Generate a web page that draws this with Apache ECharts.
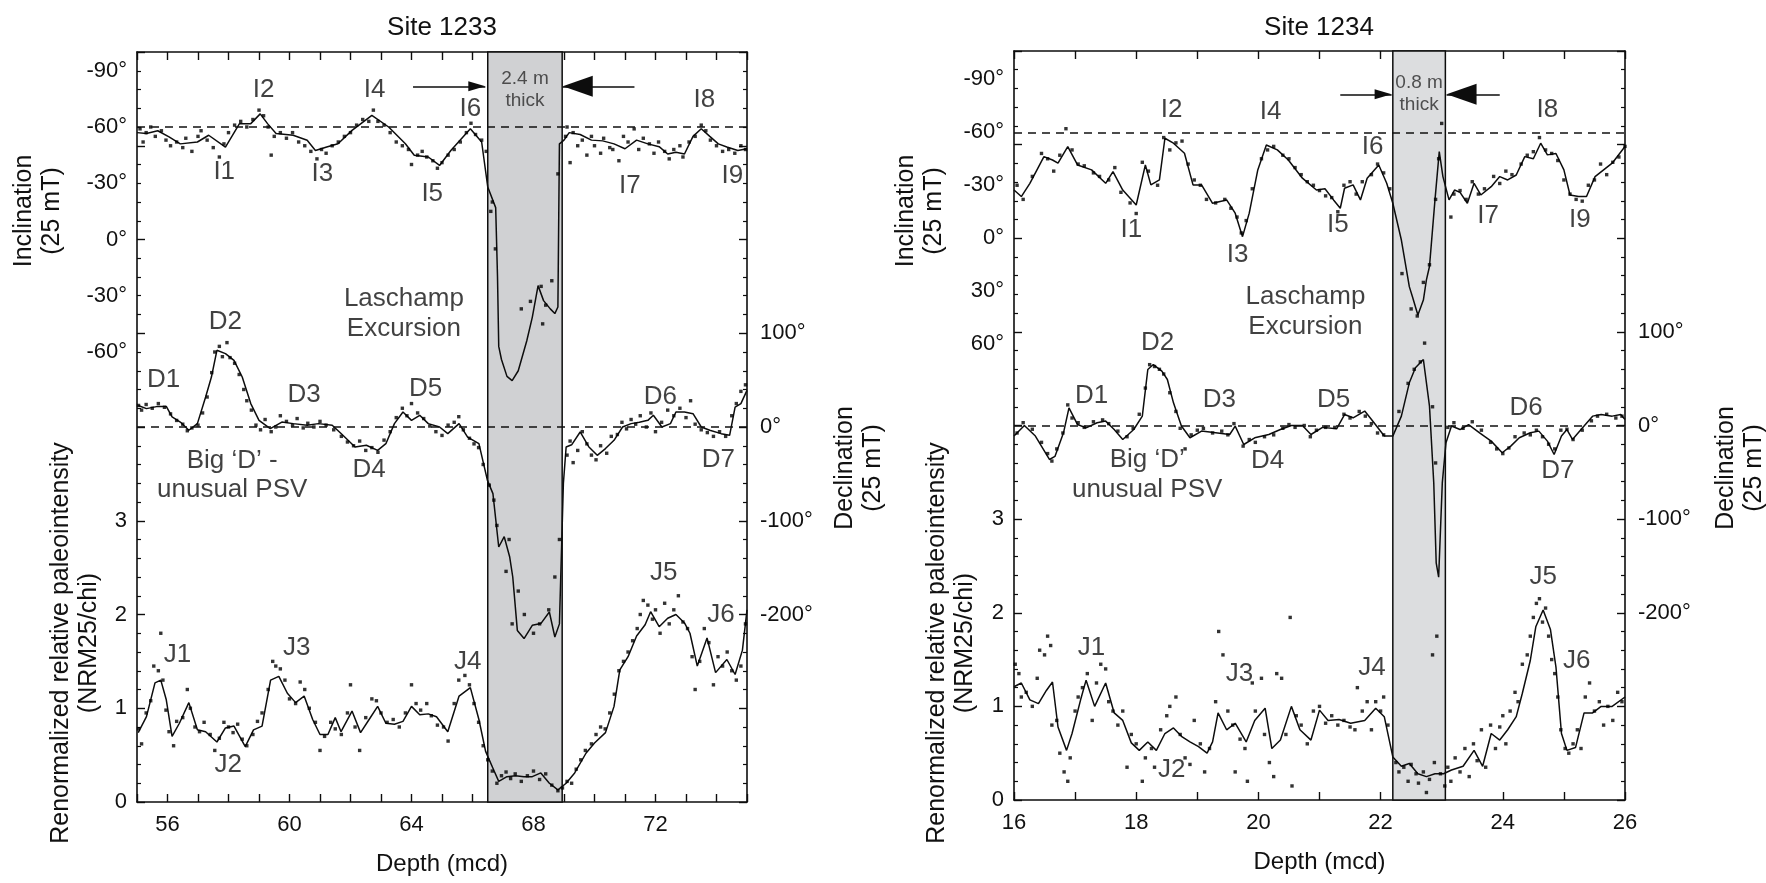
<!DOCTYPE html>
<html><head><meta charset="utf-8">
<script src="https://cdn.jsdelivr.net/npm/echarts@6/dist/echarts.min.js"></script>
<style>html,body{margin:0;padding:0;background:#fff}#c{width:1766px;height:883px}</style>
</head><body><div id="c"></div><script>
// ================= DATA =================
// axis scales / tick labels
const depthRange1233 = [55, 75];
const depthRange1234 = [16, 26];
const depthLabels1233 = [56, 60, 64, 68, 72];
const depthLabels1234 = [16, 18, 20, 22, 24, 26];
const incTicks = [-90, -60, -30, 0, 30, 60];
const incTickText1233 = ['-90°', '-60°', '-30°', '0°', '-30°', '-60°'];
const incTickText1234 = ['-90°', '-60°', '-30°', '0°', '30°', '60°'];
const incRange1233 = [-100, 300];
const incRange1234 = [-106, 318];
const decRange = [-400, 400];
const decTicksShown = [100, 0, -100, -200];
const intRange = [0, 8];
const intTicksShown = [0, 1, 2, 3];
const incReference = -60;
const decReference = 0;
const band1233 = [66.5, 68.94];
const band1234 = [22.2, 23.06];

// ---------- Site 1233 ----------
const inc1233Line = [[55.0,-57],[55.31,-56.5],[55.68,-58],[56.05,-54.7],[56.42,-51],[56.98,-52],[57.35,-55.6],[57.9,-49.3],[58.36,-61.8],[58.73,-61.8],[59.04,-67],[59.28,-61.8],[59.56,-56.5],[60.12,-55.6],[60.58,-52.9],[60.85,-47.5],[61.22,-49.3],[61.59,-51.1],[62.05,-58.2],[62.7,-66.2],[63.25,-60],[63.8,-51.1],[64.09,-44.9],[64.55,-44],[64.92,-39.5],[65.29,-47.5],[65.93,-59.1],[66.3,-52],[66.5,-28],[66.76,-17],[66.82,20],[66.86,57],[66.95,64],[67.13,73],[67.3,75.3],[67.5,70],[67.78,54],[67.96,41.5],[68.15,24.6],[68.33,32.6],[68.55,37],[68.7,39.5],[68.8,36],[68.85,-51],[69.0,-53],[69.17,-57],[69.53,-56],[69.9,-53],[70.27,-52.6],[70.64,-51],[71.0,-48.4],[71.38,-53],[71.75,-51],[72.12,-49.5],[72.4,-45.6],[72.67,-46.5],[72.95,-45.6],[73.23,-55],[73.5,-59.1],[73.78,-55],[74.06,-51],[74.34,-49.3],[74.7,-47.5],[75.0,-48.4]];
const dec1233Line = [[55.04,23],[55.31,19.6],[55.68,22],[55.96,22],[56.15,10.7],[56.42,5.3],[56.7,-3.5],[56.98,3.6],[57.25,32],[57.44,53.3],[57.62,81.8],[57.9,78.3],[58.18,71.1],[58.45,53.3],[58.73,25],[59.0,7.1],[59.37,-1.8],[59.75,5.3],[60.12,3.6],[60.58,1.8],[60.95,3.6],[61.4,1.8],[61.69,-7],[62.15,-21.3],[62.52,-19.5],[62.89,-24.9],[63.16,-17.8],[63.44,3.6],[63.72,16],[64.0,7.1],[64.27,12.5],[64.55,3.6],[64.92,0],[65.19,-7.1],[65.56,3.6],[65.84,-10.7],[66.21,-17.8],[66.49,-56.9],[66.67,-71.1],[66.86,-128],[67.04,-117],[67.22,-138.7],[67.32,-160],[67.47,-217],[67.69,-225.7],[67.96,-211.5],[68.24,-209.7],[68.52,-197.3],[68.7,-224],[68.85,-210],[68.98,-60],[69.07,-21.3],[69.25,-19],[69.53,-5.3],[69.81,-21],[70.09,-30.2],[70.36,-23],[70.64,-14.2],[70.92,0],[71.2,3.6],[71.47,5],[71.75,7.1],[71.93,12.5],[72.21,0],[72.49,3.6],[72.67,16],[72.95,16],[73.23,14.2],[73.5,0],[73.78,-3.5],[74.15,-7.1],[74.43,-8.9],[74.61,21.3],[74.8,25],[75.0,39]];
const int1233Line = [[55.04,0.74],[55.31,0.91],[55.59,1.27],[55.78,1.3],[55.96,1.09],[56.15,0.7],[56.39,0.84],[56.7,1.06],[56.98,0.77],[57.25,0.75],[57.62,0.64],[57.9,0.79],[58.18,0.81],[58.55,0.59],[58.82,0.77],[59.1,0.81],[59.38,1.3],[59.65,1.34],[59.93,1.16],[60.2,1.06],[60.48,1.13],[60.76,0.88],[61.0,0.72],[61.26,0.72],[61.5,0.9],[61.69,0.75],[62.05,0.97],[62.33,0.74],[62.61,0.88],[62.89,1.02],[63.16,0.84],[63.44,0.83],[63.72,0.86],[64.0,1.02],[64.27,0.93],[64.55,0.94],[64.82,0.91],[65.19,0.75],[65.56,1.13],[65.93,1.22],[66.21,0.88],[66.43,0.54],[66.67,0.36],[66.86,0.22],[67.13,0.27],[67.41,0.28],[67.69,0.27],[67.96,0.27],[68.24,0.31],[68.52,0.2],[68.8,0.13],[69.07,0.2],[69.35,0.31],[69.72,0.52],[70.0,0.63],[70.36,0.74],[70.64,1.02],[70.83,1.41],[71.1,1.55],[71.38,1.77],[71.66,1.89],[71.84,2.03],[72.12,1.87],[72.4,1.96],[72.67,2.0],[72.95,1.91],[73.13,1.8],[73.37,1.45],[73.69,1.75],[73.97,1.38],[74.34,1.52],[74.61,1.36],[74.85,1.62],[75.0,2.05]];
const inc1233Pts = [[55.1,-59],[55.2,-52],[55.3,-57],[55.45,-60],[55.6,-55],[55.8,-58],[55.95,-53],[56.1,-50],[56.3,-52],[56.5,-49],[56.6,-54],[56.8,-47],[57.0,-55],[57.1,-58],[57.3,-53],[57.5,-49],[57.7,-44],[57.85,-51],[58.0,-57],[58.2,-61],[58.4,-63],[58.6,-60],[58.8,-64],[59.0,-69],[59.15,-66],[59.3,-60],[59.4,-45],[59.5,-55],[59.7,-57],[59.9,-54],[60.1,-57],[60.3,-52],[60.5,-50],[60.7,-47],[60.9,-43],[61.05,-48],[61.2,-46],[61.4,-50],[61.6,-52],[61.8,-55],[62.0,-57],[62.2,-61],[62.4,-64],[62.6,-63],[62.75,-69],[62.9,-63],[63.1,-61],[63.3,-57],[63.5,-52],[63.7,-50],[63.9,-48],[64.0,-40],[64.2,-45],[64.35,-47],[64.5,-44],[64.7,-42],[64.85,-38],[65.0,-41],[65.2,-45],[65.4,-48],[65.6,-52],[65.8,-57],[65.95,-62],[66.1,-56],[66.3,-53],[66.45,-47],[66.6,-15],[66.65,-20],[66.75,5],[67.6,37],[67.9,33],[68.25,25],[68.3,45],[68.4,35],[68.6,22],[68.8,-35],[69.05,-55],[69.1,-60],[69.2,-41],[69.3,-57],[69.45,-50],[69.6,-53],[69.75,-45],[69.9,-55],[70.0,-50],[70.2,-46],[70.3,-54],[70.5,-49],[70.6,-48],[70.8,-42],[70.95,-55],[71.1,-52],[71.3,-59],[71.45,-48],[71.6,-54],[71.8,-51],[71.95,-46],[72.1,-52],[72.3,-47],[72.45,-43],[72.6,-48],[72.8,-50],[72.9,-44],[73.1,-52],[73.3,-55],[73.5,-61],[73.65,-58],[73.8,-53],[74.0,-50],[74.2,-47],[74.4,-48],[74.6,-46],[74.8,-50],[74.95,-48]];
const dec1233Pts = [[55.05,23],[55.15,18],[55.3,24],[55.5,20],[55.7,25],[55.9,21],[56.1,14],[56.3,7],[56.5,3],[56.65,-4],[56.8,-1],[57.0,2],[57.15,15],[57.3,32],[57.45,58],[57.55,80],[57.7,86],[57.8,75],[57.95,90],[58.05,74],[58.2,68],[58.35,56],[58.5,40],[58.6,28],[58.75,18],[58.9,2],[59.05,-3],[59.2,8],[59.4,-5],[59.55,0],[59.7,12],[59.9,6],[60.1,2],[60.25,9],[60.45,-1],[60.6,4],[60.8,0],[61.0,6],[61.2,2],[61.45,-3],[61.7,-10],[61.9,-16],[62.1,-20],[62.3,-15],[62.5,-25],[62.7,-22],[62.9,-27],[63.1,-14],[63.3,-5],[63.5,10],[63.7,20],[63.85,12],[64.0,25],[64.2,15],[64.4,9],[64.6,1],[64.8,-5],[65.0,-9],[65.2,2],[65.4,5],[65.55,11],[65.7,-3],[65.9,-12],[66.05,-18],[66.2,-22],[66.35,-40],[66.55,-62],[66.7,-78],[66.8,-105],[67.1,-154],[67.2,-120],[67.3,-210],[67.5,-175],[67.7,-200],[68.0,-220],[68.2,-210],[68.5,-195],[68.7,-160],[68.85,-120],[69.1,-30],[69.2,-15],[69.3,-38],[69.45,-25],[69.6,-5],[69.75,-18],[69.9,-30],[70.05,-35],[70.2,-20],[70.4,-28],[70.55,-10],[70.75,-8],[70.9,5],[71.05,-2],[71.2,8],[71.35,3],[71.5,12],[71.7,0],[71.85,15],[72.0,-5],[72.2,5],[72.4,18],[72.6,12],[72.8,20],[73.0,10],[73.15,28],[73.3,3],[73.5,-3],[73.7,-6],[73.9,-10],[74.1,-5],[74.3,-10],[74.5,12],[74.65,25],[74.8,38],[74.95,45]];
const int1233Pts = [[55.05,0.78],[55.15,0.62],[55.3,0.95],[55.45,1.08],[55.55,1.45],[55.7,1.4],[55.78,1.8],[55.85,1.3],[55.95,0.98],[56.05,0.75],[56.2,0.6],[56.3,0.86],[56.5,0.9],[56.65,1.2],[56.75,1.0],[56.9,0.8],[57.05,0.75],[57.2,0.85],[57.4,0.72],[57.55,0.55],[57.7,0.68],[57.85,0.85],[58.0,0.8],[58.15,0.74],[58.3,0.83],[58.45,0.67],[58.6,0.6],[58.8,0.72],[58.95,0.86],[59.1,0.95],[59.3,1.2],[59.45,1.5],[59.55,1.45],[59.7,1.42],[59.85,1.3],[60.0,1.1],[60.2,1.05],[60.35,1.28],[60.5,1.2],[60.65,1.0],[60.85,0.85],[61.0,0.55],[61.15,0.7],[61.35,0.85],[61.5,0.78],[61.7,0.72],[61.9,0.95],[62.0,1.25],[62.15,0.8],[62.3,0.55],[62.5,0.9],[62.7,1.1],[62.85,1.08],[63.0,0.95],[63.2,0.85],[63.4,0.88],[63.6,0.8],[63.8,0.95],[64.0,1.25],[64.15,1.05],[64.3,0.98],[64.5,1.05],[64.65,0.92],[64.85,0.82],[65.05,0.8],[65.2,0.65],[65.4,1.05],[65.55,1.3],[65.75,1.35],[65.9,1.25],[66.05,1.05],[66.2,0.85],[66.35,0.6],[66.5,0.45],[66.65,0.33],[66.8,0.2],[66.95,0.28],[67.1,0.32],[67.25,0.25],[67.4,0.3],[67.6,0.22],[67.8,0.28],[68.0,0.33],[68.2,0.24],[68.4,0.3],[68.6,0.18],[68.8,0.12],[68.95,0.15],[69.1,0.22],[69.25,0.2],[69.4,0.35],[69.55,0.45],[69.7,0.55],[69.9,0.62],[70.05,0.72],[70.2,0.8],[70.35,0.78],[70.5,0.95],[70.65,1.15],[70.8,1.4],[70.95,1.5],[71.1,1.6],[71.25,1.72],[71.4,1.85],[71.5,2.0],[71.6,2.15],[71.75,2.1],[71.9,1.95],[72.0,2.05],[72.15,1.8],[72.3,2.12],[72.45,1.9],[72.6,2.05],[72.75,2.2],[72.9,1.92],[73.05,1.85],[73.2,1.55],[73.3,1.2],[73.45,1.5],[73.6,1.85],[73.75,1.7],[73.9,1.25],[74.05,1.55],[74.2,1.45],[74.35,1.6],[74.5,1.4],[74.65,1.3],[74.8,1.45],[74.95,1.9]];
const incNotes1233 = [['I1',57.86,-36],['I2',59.15,-79.6],['I3',61.08,-35],['I4',62.79,-79.6],['I5',64.68,-24.4],['I6',65.93,-69.8],['I7',71.16,-28.8],['I8',73.6,-74.3],['I9',74.52,-34.2],['Laschamp\nExcursion',63.75,39.5]];
const decNotes1233 = [['D1',55.87,49.8],['D2',57.9,112],['D3',60.48,33.8],['D4',62.61,-46.2],['D5',64.46,41],['D6',72.16,32],['D7',74.06,-35.5],['Big ‘D’ -\nunusual PSV',58.12,-51.5]];
const intNotes1233 = [['J1',56.33,1.57],['J2',57.99,0.4],['J3',60.24,1.64],['J4',65.84,1.5],['J5',72.27,2.44],['J6',74.15,2.0]];
const thickNote1233 = [['2.4 m\nthick',67.72,-80]];
const arrowsIn1233 = [[[64.05,-81.7],[66.42,-81.7]],[[71.31,-81.7],[68.96,-81.7]]];

// ---------- Site 1234 ----------
const inc1234Line = [[16,-27.3],[16.12,-23.6],[16.26,-31.1],[16.49,-46.2],[16.63,-44.3],[16.72,-42.5],[16.88,-51.9],[17.04,-41.5],[17.27,-38.7],[17.5,-31.1],[17.62,-37.7],[17.78,-27.3],[18.0,-18.8],[18.15,-41.5],[18.24,-30.2],[18.38,-33],[18.47,-56.6],[18.61,-53.8],[18.79,-48.1],[18.93,-30.2],[19.07,-30.2],[19.25,-19.8],[19.48,-21.7],[19.62,-14.2],[19.74,-0.9],[19.85,-14.2],[19.99,-38.7],[20.13,-52.8],[20.31,-50],[20.49,-44.3],[20.72,-34],[20.95,-27.3],[21.09,-28],[21.23,-21.7],[21.34,-17],[21.41,-28.3],[21.55,-30.2],[21.67,-21.7],[21.78,-34],[21.97,-41.5],[22.1,-31.1],[22.2,-19.8],[22.34,1],[22.47,27.4],[22.52,33],[22.61,43.4],[22.7,35],[22.75,23.6],[22.8,16],[22.89,-21.7],[22.96,-49],[23.02,-34.9],[23.12,-21.7],[23.21,-27.3],[23.3,-26],[23.42,-19.8],[23.53,-31.1],[23.64,-24.5],[23.81,-29.2],[23.95,-34.9],[24.08,-33],[24.22,-35.8],[24.36,-46.2],[24.5,-45],[24.62,-53.8],[24.73,-47.2],[24.87,-48],[25.0,-38.7],[25.1,-24.5],[25.24,-23.6],[25.37,-23.6],[25.51,-34.9],[25.65,-38.7],[25.79,-42.5],[26.0,-51.9]];
const dec1234Line = [[16,-11.3],[16.17,0],[16.35,-11.3],[16.58,-36.3],[16.67,-33],[16.81,-7.8],[16.9,18.9],[17.04,1],[17.18,-2.5],[17.36,2.9],[17.5,4.7],[17.64,-4.3],[17.78,-14.9],[17.96,-4.3],[18.1,10],[18.19,59.8],[18.28,65.1],[18.42,58],[18.51,49.1],[18.61,24.2],[18.74,-0.6],[18.88,-13.1],[19.07,-6],[19.3,-7.8],[19.53,-9.6],[19.62,-0.6],[19.76,-20.3],[19.94,-13.1],[20.17,-9.6],[20.36,-4.3],[20.54,0],[20.72,0],[20.86,-9.6],[21.05,-2],[21.28,-3.5],[21.41,11.7],[21.55,8.2],[21.74,15.4],[21.88,4],[22.06,-11.3],[22.2,-11.3],[22.34,10],[22.47,45.6],[22.57,61.6],[22.7,70.5],[22.8,20.7],[22.87,-61.2],[22.91,-146.6],[22.95,-162],[22.98,-160.8],[23.01,-61],[23.07,-18.5],[23.16,-0.6],[23.3,-4.3],[23.44,1],[23.62,-7.8],[23.81,-16.7],[23.99,-29.1],[24.13,-22],[24.27,-13.1],[24.45,-7.8],[24.59,-6],[24.73,-16.7],[24.84,-31],[24.96,-11.3],[25.05,-4.3],[25.14,-14.9],[25.33,-0.6],[25.47,10],[25.61,11.7],[25.79,10],[25.93,11.7],[26,6.4]];
const int1234Line = [[16,1.21],[16.12,1.25],[16.26,1.07],[16.4,1.03],[16.53,1.17],[16.63,1.26],[16.72,0.78],[16.86,0.53],[16.95,0.71],[17.09,1.07],[17.18,1.28],[17.32,1.0],[17.5,1.25],[17.64,0.93],[17.78,0.85],[17.92,0.61],[18.05,0.53],[18.19,0.62],[18.33,0.53],[18.47,0.71],[18.61,0.77],[18.74,0.68],[18.88,0.62],[19.02,0.57],[19.16,0.5],[19.25,0.62],[19.34,0.93],[19.48,0.75],[19.62,0.82],[19.8,0.62],[19.94,0.85],[20.11,0.98],[20.22,0.55],[20.36,0.64],[20.54,1.0],[20.68,0.75],[20.86,0.64],[21.0,0.96],[21.14,0.85],[21.32,0.86],[21.51,0.82],[21.74,0.85],[21.92,0.98],[22.06,0.89],[22.2,0.46],[22.34,0.36],[22.47,0.39],[22.61,0.28],[22.75,0.25],[22.89,0.28],[23.03,0.28],[23.16,0.32],[23.35,0.36],[23.53,0.53],[23.67,0.36],[23.81,0.71],[23.95,0.64],[24.08,0.75],[24.22,0.89],[24.32,1.14],[24.45,1.49],[24.54,1.85],[24.66,2.03],[24.78,1.82],[24.87,1.42],[24.96,0.71],[25.05,0.53],[25.19,0.56],[25.33,0.93],[25.47,0.93],[25.61,1.0],[25.79,1.0],[26,1.1]];
const inc1234Pts = [[16.05,-30],[16.15,-22],[16.3,-35],[16.45,-48],[16.55,-45],[16.65,-38],[16.75,-47],[16.85,-62],[16.95,-50],[17.05,-42],[17.15,-41],[17.3,-37],[17.4,-35],[17.55,-33],[17.65,-40],[17.75,-26],[17.9,-20],[18.0,-14],[18.1,-43],[18.2,-38],[18.35,-30],[18.45,-57],[18.55,-50],[18.65,-54],[18.75,-55],[18.85,-42],[18.95,-33],[19.05,-30],[19.15,-22],[19.3,-20],[19.45,-22],[19.55,-17],[19.65,-12],[19.72,-3],[19.8,-10],[19.9,-28],[20.05,-45],[20.15,-50],[20.25,-52],[20.4,-47],[20.5,-45],[20.6,-40],[20.7,-36],[20.8,-32],[20.9,-30],[21.0,-27],[21.1,-24],[21.2,-23],[21.3,-15],[21.4,-30],[21.5,-32],[21.6,-25],[21.7,-32],[21.85,-36],[21.95,-42],[22.05,-37],[22.15,-28],[22.35,20],[22.5,40],[22.6,44],[22.7,25],[22.8,15],[22.9,-22],[22.95,-45],[23.0,-65],[23.15,-12],[23.2,-25],[23.3,-27],[23.4,-22],[23.5,-32],[23.6,-25],[23.7,-28],[23.85,-35],[23.95,-31],[24.05,-38],[24.15,-36],[24.3,-42],[24.4,-47],[24.5,-49],[24.6,-57],[24.7,-50],[24.8,-48],[24.9,-44],[25.0,-33],[25.1,-25],[25.2,-22],[25.3,-21],[25.4,-30],[25.5,-33],[25.6,-42],[25.7,-36],[25.8,-43],[25.9,-46],[26.0,-52]];
const dec1234Pts = [[16.05,-8],[16.15,3],[16.3,-4],[16.45,-18],[16.55,-30],[16.62,-38],[16.7,-25],[16.8,-8],[16.88,22],[16.95,8],[17.05,3],[17.15,-2],[17.3,4],[17.45,6],[17.55,2],[17.7,-6],[17.85,-12],[17.95,-3],[18.05,12],[18.15,40],[18.22,65],[18.3,63],[18.38,60],[18.45,55],[18.55,35],[18.65,15],[18.72,-3],[18.8,-25],[18.9,-10],[19.0,-5],[19.1,-3],[19.25,-8],[19.4,-6],[19.5,-10],[19.6,2],[19.75,-22],[19.85,-15],[19.95,-18],[20.1,-12],[20.25,-10],[20.4,-3],[20.5,1],[20.6,-2],[20.75,0],[20.85,-12],[20.95,-5],[21.1,-2],[21.25,-2],[21.4,12],[21.5,8],[21.65,15],[21.75,10],[21.85,2],[21.95,-8],[22.05,-10],[22.3,15],[22.45,45],[22.55,60],[22.65,68],[22.72,88],[22.85,20],[22.9,-40],[23.1,-2],[23.2,3],[23.35,-3],[23.5,4],[23.65,-5],[23.8,-18],[23.9,-25],[24.0,-30],[24.1,-24],[24.2,-12],[24.35,-8],[24.45,-10],[24.55,-5],[24.65,-12],[24.75,-20],[24.85,-25],[24.95,-5],[25.05,-4],[25.15,-15],[25.3,-5],[25.45,5],[25.55,10],[25.7,12],[25.85,8],[25.95,10]];
const int1234Pts = [[16.02,1.45],[16.08,1.35],[16.12,1.1],[16.2,1.15],[16.3,1.0],[16.38,1.3],[16.42,1.6],[16.5,1.55],[16.55,1.75],[16.6,1.65],[16.62,0.8],[16.7,0.85],[16.75,0.5],[16.82,0.3],[16.88,0.2],[16.92,0.45],[17.0,0.95],[17.05,1.1],[17.12,1.2],[17.2,1.35],[17.28,0.85],[17.35,1.25],[17.42,1.45],[17.5,1.4],[17.55,1.05],[17.62,0.95],[17.7,0.8],[17.78,0.95],[17.85,0.35],[17.92,0.7],[18.0,0.6],[18.1,0.2],[18.15,0.45],[18.25,0.55],[18.3,0.35],[18.4,0.75],[18.5,0.9],[18.55,1.0],[18.65,1.1],[18.72,0.7],[18.8,0.45],[18.88,0.38],[18.95,0.85],[19.05,0.6],[19.12,0.3],[19.2,0.55],[19.3,1.05],[19.35,1.8],[19.42,1.55],[19.5,0.95],[19.58,0.8],[19.62,0.3],[19.7,0.65],[19.78,0.55],[19.82,0.2],[19.9,1.25],[19.95,0.95],[20.05,1.3],[20.1,0.7],[20.18,0.4],[20.25,0.25],[20.3,1.35],[20.38,1.3],[20.45,0.7],[20.52,1.95],[20.55,0.15],[20.62,0.9],[20.7,0.8],[20.8,0.6],[20.9,0.95],[21.0,1.0],[21.1,0.82],[21.2,0.9],[21.3,0.8],[21.4,0.85],[21.5,0.78],[21.58,0.75],[21.62,1.2],[21.7,0.95],[21.78,1.05],[21.85,0.75],[21.92,1.05],[22.0,0.95],[22.05,1.1],[22.12,0.8],[22.25,0.4],[22.3,0.3],[22.38,0.35],[22.45,0.2],[22.5,0.38],[22.58,0.28],[22.62,0.18],[22.7,0.3],[22.75,0.08],[22.8,0.22],[22.85,1.55],[22.88,0.4],[22.92,1.75],[22.98,0.28],[23.05,0.15],[23.1,0.35],[23.15,0.2],[23.22,0.45],[23.3,0.3],[23.38,0.55],[23.45,0.25],[23.52,0.6],[23.58,0.42],[23.65,0.75],[23.72,0.35],[23.8,0.8],[23.88,0.55],[23.95,0.78],[24.0,0.9],[24.05,0.6],[24.12,0.95],[24.2,1.15],[24.25,1.05],[24.32,1.45],[24.4,1.55],[24.45,1.75],[24.5,1.95],[24.55,2.1],[24.6,2.15],[24.65,1.9],[24.7,2.05],[24.75,1.75],[24.8,1.5],[24.85,1.35],[24.9,1.1],[24.95,0.75],[25.02,0.55],[25.08,0.5],[25.15,0.6],[25.22,0.75],[25.28,0.55],[25.35,1.1],[25.42,1.25],[25.5,0.95],[25.58,1.05],[25.65,0.8],[25.72,1.0],[25.8,0.85],[25.88,1.15],[25.95,1.05]];
const incNotes1234 = [['I1',17.92,-4.7],['I2',18.58,-72.6],['I3',19.66,9.5],['I4',20.2,-71.7],['I5',21.3,-7.5],['I6',21.87,-51.9],['I7',23.76,-12.6],['I8',24.73,-72.6],['I9',25.26,-10.4],['Laschamp\nExcursion',20.77,41.5]];
const decNotes1234 = [['D1',17.27,31.4],['D2',18.35,88.3],['D3',19.36,27.8],['D4',20.15,-38],['D5',21.23,27.8],['D6',24.38,18.9],['D7',24.9,-48.7],['Big ‘D’\nunusual PSV',18.18,-53]];
const intNotes1234 = [['J1',17.27,1.62],['J2',18.58,0.32],['J3',19.69,1.35],['J4',21.86,1.41],['J5',24.66,2.38],['J6',25.21,1.49]];
const thickNote1234 = [['0.8 m\nthick',22.63,-81.7]];
const arrowsIn1234 = [[[21.34,-81.5],[22.18,-81.5]],[[23.95,-81.5],[23.08,-81.5]]];

// ================= CHART =================
const FONT = '"Liberation Sans", Arial, Helvetica, sans-serif';
const INK = '#0d0d0d';
const TXT = '#111';

const grids = [
  {left: 137, top: 52, width: 610, height: 750},
  {left: 1014, top: 51, width: 611, height: 749}
];

function xAxesFor(gi, range, labels) {
  const common = {
    gridIndex: gi, type: 'value', min: range[0], max: range[1], interval: 1,
    axisLine: {show: true, onZero: false, lineStyle: {color: INK, width: 1.6}},
    axisTick: {show: true, inside: true, length: 8, lineStyle: {color: INK, width: 1.4}},
    splitLine: {show: false}
  };
  return [
    Object.assign({}, common, {
      position: 'bottom',
      axisLabel: {show: true, interval: 0, margin: 12, fontSize: 22, color: TXT, fontFamily: FONT,
        formatter: v => labels.indexOf(Math.round(v)) >= 0 && Math.abs(v - Math.round(v)) < 1e-6 ? String(Math.round(v)) : ''},
      name: 'Depth (mcd)', nameLocation: 'middle', nameGap: 50,
      nameTextStyle: {fontSize: 24, color: TXT, fontFamily: FONT}
    }),
    Object.assign({}, common, {position: 'top', axisLabel: {show: false}})
  ];
}

function yAxesFor(gi, incRange, incText) {
  return [
    { // paleointensity (left)
      gridIndex: gi, type: 'value', position: 'left', min: intRange[0], max: intRange[1], interval: 1,
      axisLine: {show: true, onZero: false, lineStyle: {color: INK, width: 1.6}},
      axisTick: {show: true, inside: true, length: 8, lineStyle: {color: INK, width: 1.4}},
      minorTick: {show: true, splitNumber: 5, length: 4, lineStyle: {color: INK, width: 1.2}},
      splitLine: {show: false},
      axisLabel: {show: true, margin: 10, fontSize: 22, color: TXT, fontFamily: FONT,
        formatter: v => intTicksShown.indexOf(v) >= 0 ? String(v) : ''}
    },
    { // inclination (left, inverted)
      gridIndex: gi, type: 'value', position: 'left', inverse: true, min: incRange[0], max: incRange[1],
      axisLine: {show: false}, axisTick: {show: false}, splitLine: {show: false},
      axisLabel: {show: true, margin: 10, fontSize: 22, color: TXT, fontFamily: FONT,
        customValues: incTicks,
        formatter: v => { const i = incTicks.indexOf(v); return i >= 0 ? incText[i] : ''; }}
    },
    { // declination (right)
      gridIndex: gi, type: 'value', position: 'right', min: decRange[0], max: decRange[1], interval: 100,
      axisLine: {show: true, onZero: false, lineStyle: {color: INK, width: 1.6}},
      axisTick: {show: true, inside: true, length: 8, lineStyle: {color: INK, width: 1.4}},
      minorTick: {show: true, splitNumber: 5, length: 4, lineStyle: {color: INK, width: 1.2}},
      splitLine: {show: false},
      axisLabel: {show: true, margin: 13, fontSize: 22, color: TXT, fontFamily: FONT,
        formatter: v => decTicksShown.indexOf(v) >= 0 ? v + '°' : ''}
    }
  ];
}

const dashed = {type: [8, 6], width: 1.7, color: '#111'};

function arrowItems(arrows) {
  const sizes = [[10, 17], [21, 30]];
  return arrows.map((a, k) => [
    {coord: a[0], symbol: 'none', lineStyle: {type: 'solid', width: 1.7, color: INK}},
    {coord: a[1], symbol: 'triangle', symbolSize: sizes[k], symbolOffset: [0, '50%']}
  ]);
}

function noteSeries(xi, yi, notes, size, color) {
  return {
    type: 'scatter', xAxisIndex: xi, yAxisIndex: yi, silent: true, z: 8,
    symbolSize: 0,
    data: notes.map(n => ({name: n[0], value: [n[1], n[2]]})),
    label: {show: true, position: 'inside', formatter: '{b}', fontSize: size, lineHeight: size * 1.15,
      color: color, fontFamily: FONT}
  };
}

function panelSeries(xi, yb, d) {
  const lineStyle = {color: INK, width: 1.5};
  const pts = {type: 'scatter', symbol: 'rect', symbolSize: 3.4, itemStyle: {color: '#000'}, silent: true, z: 4};
  return [
    {type: 'line', xAxisIndex: xi, yAxisIndex: yb, data: [], silent: true, z: 1,
      markArea: {silent: true, itemStyle: {color: d.bandColor, borderColor: INK, borderWidth: 1.5},
        data: [[{xAxis: d.band[0]}, {xAxis: d.band[1]}]]}},
    {type: 'line', xAxisIndex: xi, yAxisIndex: yb + 1, data: d.incLine, showSymbol: false, symbol: 'none',
      lineStyle, z: 3, silent: true,
      markLine: {silent: true, symbol: ['none', 'none'], label: {show: false}, animation: false,
        lineStyle: dashed,
        data: [{yAxis: incReference, lineStyle: dashed}].concat(arrowItems(d.arrows))}},
    Object.assign({xAxisIndex: xi, yAxisIndex: yb + 1, data: d.incPts}, pts),
    {type: 'line', xAxisIndex: xi, yAxisIndex: yb + 2, data: d.decLine, showSymbol: false, symbol: 'none',
      lineStyle, z: 3, silent: true,
      markLine: {silent: true, symbol: ['none', 'none'], label: {show: false}, animation: false,
        lineStyle: dashed, data: [{yAxis: decReference}]}},
    Object.assign({xAxisIndex: xi, yAxisIndex: yb + 2, data: d.decPts}, pts),
    {type: 'line', xAxisIndex: xi, yAxisIndex: yb, data: d.intLine, showSymbol: false, symbol: 'none',
      lineStyle, z: 3, silent: true},
    Object.assign({xAxisIndex: xi, yAxisIndex: yb, data: d.intPts}, pts),
    noteSeries(xi, yb + 1, d.incNotes, 26, TXT),
    noteSeries(xi, yb + 2, d.decNotes, 26, TXT),
    noteSeries(xi, yb, d.intNotes, 26, TXT),
    noteSeries(xi, yb + 1, d.thickNote, 19, '#2a2a2a')
  ];
}

function rotText(x, y, text, size) {
  return {type: 'text', x: x, y: y, rotation: Math.PI / 2, silent: true,
    style: {text: text, font: size + 'px ' + FONT, fontSize: size, fontFamily: FONT, lineHeight: size * 1.12,
      fill: TXT, align: 'center', verticalAlign: 'middle', textAlign: 'center', textVerticalAlign: 'middle'}};
}
function plainText(x, y, text, size) {
  return {type: 'text', x: x, y: y, silent: true,
    style: {text: text, font: size + 'px ' + FONT, fontSize: size, fontFamily: FONT,
      fill: TXT, align: 'center', verticalAlign: 'middle', textAlign: 'center', textVerticalAlign: 'middle'}};
}

const option = {
  animation: false,
  backgroundColor: '#fff',
  grid: grids,
  xAxis: xAxesFor(0, depthRange1233, depthLabels1233).concat(xAxesFor(1, depthRange1234, depthLabels1234)),
  yAxis: yAxesFor(0, incRange1233, incTickText1233).concat(yAxesFor(1, incRange1234, incTickText1234)),
  series: panelSeries(0, 0, {
      band: band1233, bandColor: '#d0d1d3',
      incLine: inc1233Line, incPts: inc1233Pts, decLine: dec1233Line, decPts: dec1233Pts,
      intLine: int1233Line, intPts: int1233Pts,
      incNotes: incNotes1233, decNotes: decNotes1233, intNotes: intNotes1233,
      thickNote: thickNote1233, arrows: arrowsIn1233})
    .concat(panelSeries(2, 3, {
      band: band1234, bandColor: '#dcdddf',
      incLine: inc1234Line, incPts: inc1234Pts, decLine: dec1234Line, decPts: dec1234Pts,
      intLine: int1234Line, intPts: int1234Pts,
      incNotes: incNotes1234, decNotes: decNotes1234, intNotes: intNotes1234,
      thickNote: thickNote1234, arrows: arrowsIn1234})),
  graphic: [
    plainText(442, 28, 'Site 1233', 26),
    plainText(1319, 28, 'Site 1234', 26),
    rotText(38, 211, 'Inclination\n(25 mT)', 25),
    rotText(75, 643, 'Renormalized relative paleointensity\n(NRM25/chi)', 25),
    rotText(859, 468, 'Declination\n(25 mT)', 25),
    rotText(920, 211, 'Inclination\n(25 mT)', 25),
    rotText(951, 643, 'Renormalized relative paleointensity\n(NRM25/chi)', 25),
    rotText(1740, 468, 'Declination\n(25 mT)', 25)
  ]
};

const chart = echarts.init(document.getElementById('c'), null, {renderer: 'canvas', width: 1766, height: 883});
chart.setOption(option);
</script></body></html>
